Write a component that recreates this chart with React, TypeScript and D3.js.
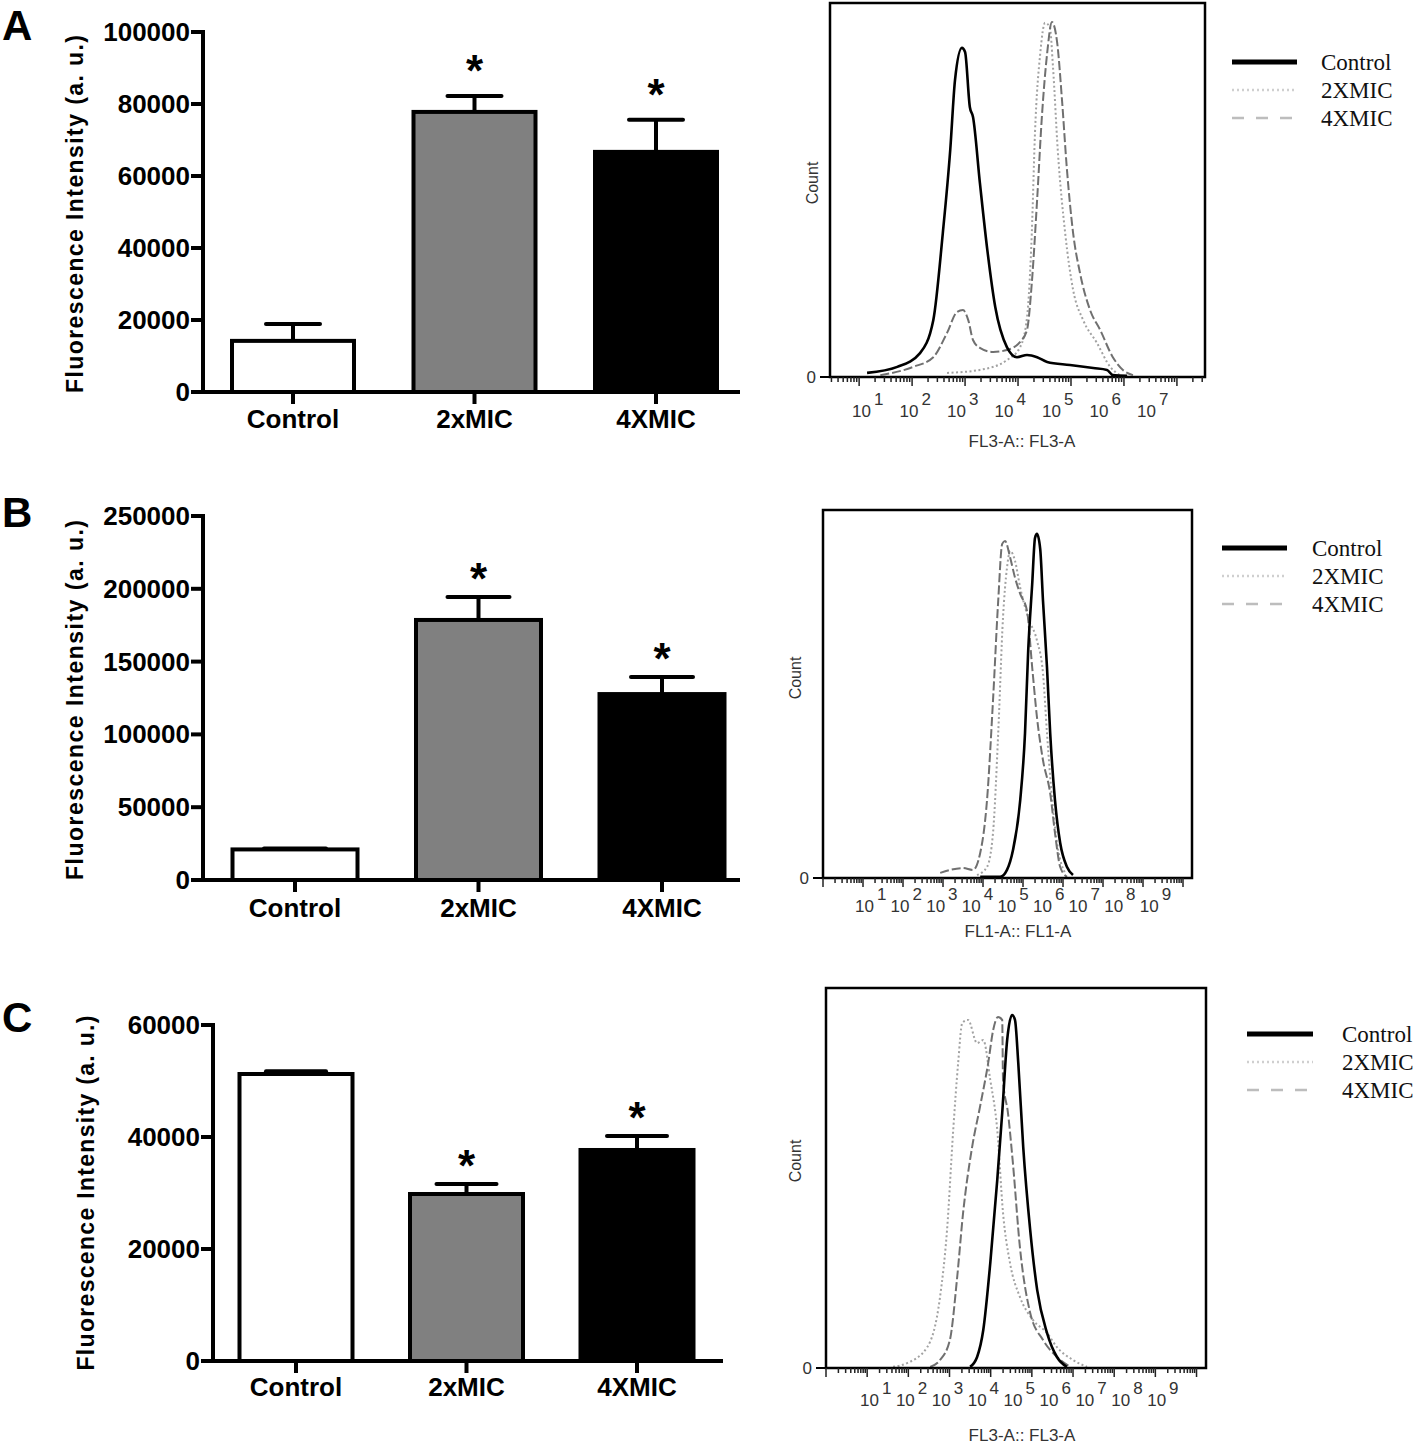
import React from "react";
import * as d3 from "d3";

// ---------- DATA ----------
const categories = ["Control", "2xMIC", "4XMIC"];
const barFills = ["#ffffff", "#808080", "#000000"];
const starred = [false, true, true];

const meansA = [14200, 77800, 66700];
const semA = [4700, 4400, 8900];
const ticksA = [0, 20000, 40000, 60000, 80000, 100000];

const meansB = [21000, 178600, 127700];
const semB = [600, 15700, 11700];
const ticksB = [0, 50000, 100000, 150000, 200000, 250000];

const meansC = [51250, 29820, 37680];
const semC = [500, 1800, 2500];
const ticksC = [0, 20000, 40000, 60000];

const legendLabels = ["Control", "2XMIC", "4XMIC"];
const expsA = [1, 2, 3, 4, 5, 6, 7];
const expsBC = [1, 2, 3, 4, 5, 6, 7, 8, 9];

// histogram curves: [log10 fluorescence, count as % of axis max]
const histAControl: [number, number][] = [
  [1.15, 1.1], [1.72, 2.7], [2.15, 6.4], [2.4, 15.2], [2.58, 38.5], [2.72, 60.7], [2.81, 79.4],
  [2.94, 88.0], [3.0, 86.9], [3.09, 72.2], [3.15, 69.5], [3.28, 51.9], [3.42, 34.0], [3.57, 18.7],
  [3.79, 8.0], [3.98, 5.3], [4.17, 5.9], [4.36, 5.3], [4.55, 4.0], [4.98, 3.2], [5.42, 2.4],
  [5.68, 1.9], [5.79, 0.5], [6.06, 0.3],
];
const histA2x: [number, number][] = [
  [2.66, 1.1], [3.28, 1.9], [3.79, 4.5], [4.04, 8.0], [4.17, 16.0], [4.26, 38.5], [4.32, 65.2],
  [4.42, 86.6], [4.51, 94.7], [4.6, 93.6], [4.66, 82.9], [4.75, 60.7], [4.89, 38.5], [5.04, 23.3],
  [5.23, 15.2], [5.49, 9.1], [5.74, 2.7], [5.92, 0.5],
];
const histA4x: [number, number][] = [
  [1.4, 0.5], [2.02, 2.7], [2.4, 5.3], [2.66, 11.8], [2.85, 17.4], [2.96, 17.9], [3.06, 15.2],
  [3.15, 9.9], [3.28, 7.8], [3.53, 6.7], [3.79, 7.2], [4.04, 9.4], [4.17, 12.6], [4.26, 25.1],
  [4.36, 47.3], [4.45, 69.5], [4.55, 86.6], [4.64, 94.9], [4.74, 89.3], [4.83, 74.1], [4.92, 56.1],
  [5.04, 38.5], [5.17, 27.8], [5.36, 17.9], [5.55, 12.6], [5.79, 5.3], [5.98, 1.9], [6.17, 0.5],
];

const histBControl: [number, number][] = [
  [3.93, 0.3], [4.43, 0.3], [4.6, 2.2], [4.75, 7.6], [4.93, 21.1], [5.05, 39.3], [5.13, 61.8],
  [5.23, 79.9], [5.3, 92.4], [5.35, 93.5], [5.43, 89.4], [5.5, 75.3], [5.6, 57.2], [5.68, 39.3],
  [5.8, 21.1], [5.93, 9.5], [6.1, 3.0], [6.25, 0.8],
];
const histB2x: [number, number][] = [
  [3.85, 0.8], [4.1, 3.0], [4.25, 12.2], [4.38, 39.3], [4.5, 70.7], [4.6, 84.3], [4.68, 88.9],
  [4.8, 86.2], [4.93, 78.9], [5.13, 70.7], [5.35, 64.5], [5.5, 55.6], [5.6, 39.3], [5.73, 21.1],
  [5.88, 7.6], [6.05, 1.4],
];
const histB4x: [number, number][] = [
  [2.93, 1.4], [3.18, 2.2], [3.5, 2.7], [3.75, 2.2], [3.93, 6.8], [4.1, 21.1], [4.25, 48.2],
  [4.38, 75.3], [4.48, 90.8], [4.55, 91.6], [4.68, 87.0], [4.8, 81.6], [4.93, 77.2], [5.1, 72.6],
  [5.23, 57.2], [5.35, 43.6], [5.5, 32.0], [5.68, 23.0], [5.8, 12.2], [5.93, 3.0], [6.1, 0.3],
];

const histCControl: [number, number][] = [
  [3.5, 0.3], [3.67, 2.9], [3.82, 10.0], [3.99, 27.6], [4.16, 49.5], [4.28, 67.1], [4.4, 86.3],
  [4.52, 92.9], [4.59, 91.6], [4.67, 80.3], [4.79, 58.2], [4.96, 36.3], [5.13, 20.5], [5.37, 9.2],
  [5.61, 2.9], [5.85, 0.3],
];
const histC2x: [number, number][] = [
  [1.63, 0.3], [1.97, 1.3], [2.46, 5.5], [2.77, 18.7], [2.94, 36.3], [3.09, 62.6], [3.21, 80.3],
  [3.31, 90.8], [3.45, 91.6], [3.67, 85.5], [3.82, 86.3], [3.99, 75.8], [4.16, 62.6], [4.3, 40.8],
  [4.47, 27.6], [4.71, 18.7], [5.03, 12.6], [5.37, 9.2], [5.61, 5.5], [6.0, 2.1], [6.34, 0.3],
];
const histC4x: [number, number][] = [
  [2.53, 0.3], [2.77, 2.1], [3.01, 7.4], [3.18, 23.2], [3.33, 40.8], [3.55, 58.2], [3.74, 68.7],
  [3.94, 80.3], [4.06, 88.9], [4.18, 92.4], [4.28, 91.6], [4.3, 75.8], [4.42, 67.1], [4.54, 53.9],
  [4.71, 31.8], [4.96, 14.5], [5.27, 7.4], [5.61, 2.9], [5.93, 0.3],
];

// ---------- STYLES ----------
const SANS = "'Liberation Sans', Arial, Helvetica, sans-serif";
const SERIF = "'Liberation Serif', 'Times New Roman', serif";

const curveStyles = [
  { stroke: "#000000", width: 2.6, dash: "none" },
  { stroke: "#a2a2a2", width: 2, dash: "2,2.5" },
  { stroke: "#707070", width: 2, dash: "9,3" },
];
const legendStyles = [
  { stroke: "#000000", width: 5, dash: "none" },
  { stroke: "#cfcfcf", width: 2.5, dash: "2,3" },
  { stroke: "#bdbdbd", width: 2.5, dash: "12,12" },
];

// ---------- BAR PANEL ----------
type BarLayout = {
  letter: string; letterY: number;
  axisX: number; xEnd: number; y0: number; yTop: number;
  centers: [number, number]; barW: number; capW: number;
  titleX: number; titleY: number; titleLen: number;
  labelY: number; starGap: number;
};

function BarPanel({ L, means, sems, ticks }: { L: BarLayout; means: number[]; sems: number[]; ticks: number[] }) {
  const y = d3.scaleLinear().domain([0, d3.max(ticks) as number]).range([L.y0, L.yTop]);
  const x = d3.scalePoint<string>().domain(categories).range(L.centers);
  return (
    <g fontFamily={SANS}>
      <text x={2} y={L.letterY} fontSize={42} fontWeight="bold">{L.letter}</text>
      <text
        transform={`translate(${L.titleX},${L.titleY}) rotate(-90)`}
        textAnchor="middle" dominantBaseline="central"
        fontSize={23} fontWeight="bold" textLength={L.titleLen} lengthAdjust="spacing"
      >Fluorescence Intensity (a. u.)</text>
      {ticks.map((t) => (
        <g key={t}>
          <line x1={L.axisX - 12} x2={L.axisX} y1={y(t)} y2={y(t)} stroke="#000" strokeWidth={4} />
          <text x={L.axisX - 13} y={y(t)} textAnchor="end" dominantBaseline="central" fontSize={26} fontWeight="bold">{t}</text>
        </g>
      ))}
      {categories.map((c, i) => {
        const cx = x(c) as number;
        const top = y(means[i]);
        const errTop = y(means[i] + sems[i]);
        return (
          <g key={c}>
            <rect x={cx - L.barW / 2} y={top} width={L.barW} height={L.y0 - top}
              fill={barFills[i]} stroke="#000" strokeWidth={4} />
            <line x1={cx} x2={cx} y1={top} y2={errTop} stroke="#000" strokeWidth={4} />
            <line x1={cx - L.capW / 2} x2={cx + L.capW / 2} y1={errTop} y2={errTop} stroke="#000" strokeWidth={4} strokeLinecap="round" />
            {starred[i] && (
              <text x={cx} y={errTop - L.starGap + 24} textAnchor="middle" fontSize={44} fontWeight="bold">*</text>
            )}
            <line x1={cx} x2={cx} y1={L.y0} y2={L.y0 + 12} stroke="#000" strokeWidth={4} />
            <text x={cx} y={L.labelY} textAnchor="middle" fontSize={26} fontWeight="bold">{c}</text>
          </g>
        );
      })}
      <line x1={L.axisX} x2={L.axisX} y1={L.y0 + 2} y2={L.yTop - 2} stroke="#000" strokeWidth={4} />
      <line x1={L.axisX - 2} x2={L.xEnd} y1={L.y0} y2={L.y0} stroke="#000" strokeWidth={4} />
    </g>
  );
}

// ---------- HISTOGRAM PANEL ----------
type HistLayout = {
  x0: number; x1: number; yTop: number; yBot: number; domain: [number, number];
  labelX0: number; labelDx: number; labelY: number;
  title: string; titleX: number; titleY: number;
  countX: number; countY: number;
  legLine: [number, number]; legTextX: number; legY: number[];
};

function HistPanel({ H, series, exps }: { H: HistLayout; series: [number, number][][]; exps: number[] }) {
  const x = d3.scaleLinear().domain(H.domain).range([H.x0, H.x1]);
  const y = d3.scaleLinear().domain([0, 100]).range([H.yBot, H.yTop]);
  const line = d3.line<[number, number]>().x((d) => x(d[0])).y((d) => y(d[1])).curve(d3.curveMonotoneX);
  const tickVals: { v: number; major: boolean }[] = [];
  for (let dec = Math.floor(H.domain[0]); dec <= Math.ceil(H.domain[1]); dec++) {
    for (let k = 1; k <= 9; k++) {
      const v = dec + Math.log10(k);
      if (v >= H.domain[0] && v <= H.domain[1]) tickVals.push({ v, major: k === 1 });
    }
  }
  const order = [1, 2, 0];
  return (
    <g fontFamily={SANS}>
      {order.map((si) => (
        <path key={si} d={line(series[si]) || ""} fill="none"
          stroke={curveStyles[si].stroke} strokeWidth={curveStyles[si].width}
          strokeDasharray={curveStyles[si].dash} strokeLinejoin="round" />
      ))}
      <rect x={H.x0} y={H.yTop} width={H.x1 - H.x0} height={H.yBot - H.yTop} fill="none" stroke="#000" strokeWidth={2.5} />
      <line x1={H.x0 - 10} x2={H.x0} y1={H.yBot} y2={H.yBot} stroke="#000" strokeWidth={2} />
      <text x={H.x0 - 14} y={H.yBot} textAnchor="end" dominantBaseline="central" fontSize={17} fill="#333">0</text>
      {tickVals.map((t, i) => (
        <line key={i} x1={x(t.v)} x2={x(t.v)} y1={H.yBot} y2={H.yBot + (t.major ? 9 : 5)} stroke="#222" strokeWidth={1.5} />
      ))}
      {exps.map((e, i) => (
        <text key={e} x={H.labelX0 + i * H.labelDx} y={H.labelY} fontSize={17} fill="#333">
          10<tspan dy={-12} dx={3} fontSize={17}>{e}</tspan>
        </text>
      ))}
      <text x={H.titleX} y={H.titleY} textAnchor="middle" fontSize={17} fill="#333">{H.title}</text>
      <text transform={`translate(${H.countX},${H.countY}) rotate(-90)`} textAnchor="middle" dominantBaseline="central" fontSize={16} fill="#333">Count</text>
      {legendLabels.map((lab, i) => (
        <g key={lab}>
          <line x1={H.legLine[0]} x2={H.legLine[1]} y1={H.legY[i] - 5} y2={H.legY[i] - 5}
            stroke={legendStyles[i].stroke} strokeWidth={legendStyles[i].width} strokeDasharray={legendStyles[i].dash} />
          <text x={H.legTextX} y={H.legY[i] + 3} fontFamily={SERIF} fontSize={23} fill="#111">{lab}</text>
        </g>
      ))}
    </g>
  );
}

// ---------- LAYOUTS ----------
const barLayoutA: BarLayout = {
  letter: "A", letterY: 40, axisX: 203, xEnd: 740, y0: 392, yTop: 32,
  centers: [293, 656], barW: 122, capW: 54, titleX: 75, titleY: 214, titleLen: 358, labelY: 428, starGap: 34,
};
const barLayoutB: BarLayout = {
  letter: "B", letterY: 527, axisX: 203, xEnd: 740, y0: 880, yTop: 516,
  centers: [295, 662], barW: 125, capW: 62, titleX: 75, titleY: 700, titleLen: 360, labelY: 917, starGap: 27,
};
const barLayoutC: BarLayout = {
  letter: "C", letterY: 1032, axisX: 213, xEnd: 723, y0: 1361, yTop: 1025,
  centers: [296, 637], barW: 113, capW: 60, titleX: 86, titleY: 1193, titleLen: 355, labelY: 1396, starGap: 27,
};

const histLayoutA: HistLayout = {
  x0: 830, x1: 1205, yTop: 3, yBot: 377, domain: [0.45, 7.53],
  labelX0: 852, labelDx: 47.5, labelY: 417,
  title: "FL3-A:: FL3-A", titleX: 1022, titleY: 447, countX: 812, countY: 183,
  legLine: [1232, 1297], legTextX: 1321, legY: [67, 95, 123],
};
const histLayoutB: HistLayout = {
  x0: 823, x1: 1192, yTop: 510, yBot: 878, domain: [0, 9.225],
  labelX0: 855, labelDx: 35.6, labelY: 912,
  title: "FL1-A:: FL1-A", titleX: 1018, titleY: 937, countX: 795, countY: 678,
  legLine: [1222, 1287], legTextX: 1312, legY: [553, 581, 609],
};
const histLayoutC: HistLayout = {
  x0: 826, x1: 1206, yTop: 988, yBot: 1368, domain: [0, 9.23],
  labelX0: 860, labelDx: 35.9, labelY: 1406,
  title: "FL3-A:: FL3-A", titleX: 1022, titleY: 1441, countX: 795, countY: 1161,
  legLine: [1247, 1313], legTextX: 1342, legY: [1039, 1067, 1095],
};

export default function App() {
  return (
    <div style={{ position: "absolute", left: 0, top: 0 }}>
      <svg width={1418} height={1445} viewBox="0 0 1418 1445" style={{ display: "block", background: "#fff" }}>
        <rect x={0} y={0} width={1418} height={1445} fill="#fff" />
        <BarPanel L={barLayoutA} means={meansA} sems={semA} ticks={ticksA} />
        <BarPanel L={barLayoutB} means={meansB} sems={semB} ticks={ticksB} />
        <BarPanel L={barLayoutC} means={meansC} sems={semC} ticks={ticksC} />
        <HistPanel H={histLayoutA} series={[histAControl, histA2x, histA4x]} exps={expsA} />
        <HistPanel H={histLayoutB} series={[histBControl, histB2x, histB4x]} exps={expsBC} />
        <HistPanel H={histLayoutC} series={[histCControl, histC2x, histC4x]} exps={expsBC} />
      </svg>
    </div>
  );
}
